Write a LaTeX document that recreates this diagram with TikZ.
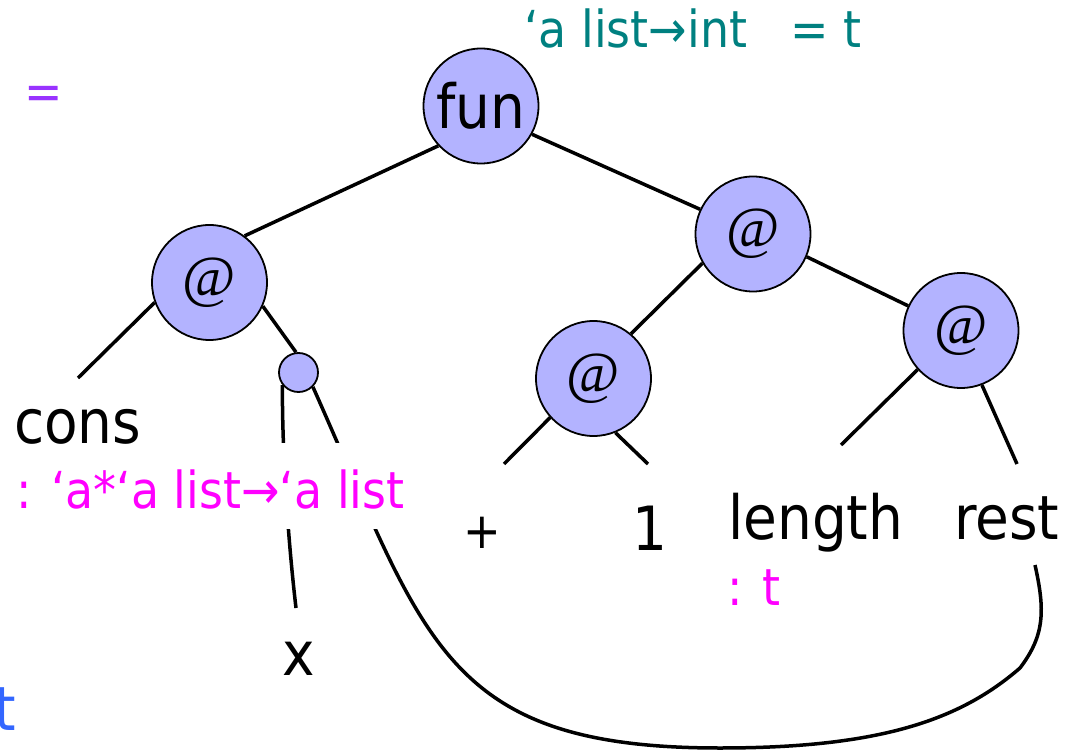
\documentclass[tikz,border=0pt]{standalone}
\usepackage{fontspec}
\setmainfont{DejaVu Sans Condensed}
\newfontfamily\atfont{Liberation Serif}
\usetikzlibrary{backgrounds}

\definecolor{opfill}{RGB}{179,179,255}
\definecolor{typeteal}{RGB}{0,128,128}
\definecolor{typepink}{RGB}{255,0,255}
\definecolor{eqpurple}{RGB}{153,51,255}
\definecolor{tblue}{RGB}{51,102,255}

\begin{document}
\begin{tikzpicture}[x=1pt,y=-1pt,
  op/.style={circle, draw=black, line width=1.8pt, fill=opfill,
             minimum size=115pt, inner sep=0pt},
  atop/.style={op, font=\atfont\fontsize{58}{58}\selectfont},
  tiny/.style={circle, draw=black, line width=1.8pt, fill=opfill,
               minimum size=39pt, inner sep=0pt},
  edge/.style={line width=3.5pt},
  term/.style={inner sep=0pt, font=\fontsize{61}{61}\selectfont},
  ann/.style={inner sep=0pt, font=\fontsize{51}{51}\selectfont}]

\useasboundingbox (0,0) rectangle (1074,751);

% operator nodes of the syntax tree
\node[op, font=\fontsize{61}{61}\selectfont] (fun) at (481,106) {fun};
\node[atop] (L)  at (209.5,282.5) {@};
\node[atop] (R1) at (753,234) {@};
\node[atop] (M)  at (593.5,378.5) {@};
\node[atop] (R2) at (961,330.5) {@};
\node[tiny] (S)  at (298.5,372.5) {};

% loose ends of the leaf edges
\coordinate (consEnd) at (78,378);
\coordinate (plusEnd) at (504,464);
\coordinate (oneEnd)  at (648,464);
\coordinate (lenEnd)  at (841,445);
\coordinate (restEnd) at (1017,464);
\coordinate (xEnd)    at (296,608);
\coordinate (restLink) at (1035,565);

\begin{pgfonlayer}{background}
  \draw[edge] (fun.223) -- (L.53);
  \draw[edge] (fun.331) -- (R1.155);
  \draw[edge] (R1.210) -- (M.50);
  \draw[edge] (R1.337) -- (R2.155);
  \draw[edge] (L.200) -- (consEnd);
  \draw[edge] (L.336) -- (S.97);
  \draw[edge] (M.222) -- (plusEnd);
  \draw[edge] (M.292) -- (oneEnd);
  \draw[edge] (R2.222) -- (lenEnd);
  \draw[edge] (R2.291) -- (restEnd);
  % the tail of the list: from the cons cell down to x and round to rest
  \draw[edge] (S.218) .. controls (282,450) and (288,540) .. (xEnd);
  \draw[edge] (S.315) .. controls (425.7,640) and (443,748) .. (720,748)
              .. controls (880,748) and (960,720) .. (1020,668)
              .. controls (1045,635) and (1045,610) .. (restLink);
\end{pgfonlayer}

% type annotation of cons, knocking out the lines behind it
\node[ann, text=typepink, fill=white, anchor=base west, inner xsep=2pt,
      inner ysep=21pt, text height=44pt, text depth=0pt]
      (consType) at (14,508) {: ‘a*‘a list→‘a list};

% leaves
\node[term, anchor=base west] (cons)   at (14,443)  {cons};
\node[term, anchor=base west] (length) at (728,539) {length};
\node[term, anchor=base west] (rest)   at (954,539) {rest};
\node[term, anchor=base]      (one)    at (650,550) {1};
\node[inner sep=0pt, font=\fontsize{50}{50}\selectfont] (plus) at (482,533) {+};
\node[term, anchor=base]      (x)      at (298.5,675) {x};

% other annotations
\node[ann, text=typepink, anchor=base west] (lenType) at (727,605) {: t};
\node[ann, text=typeteal, anchor=base west] (funType) at (524,48) {‘a list→int\ \ \ = t};
\node[ann, text=eqpurple] (eq) at (43.5,97.5) {=};
\node[term, text=tblue, anchor=base west] (tvar) at (-6,730) {t};
\end{tikzpicture}
\end{document}
